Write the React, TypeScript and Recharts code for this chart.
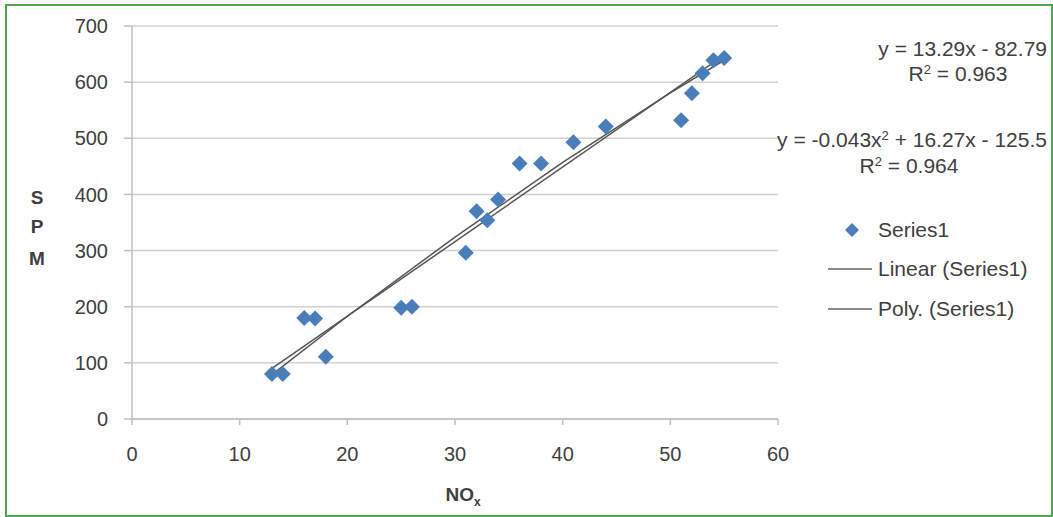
import React from "react";
import {
  ScatterChart,
  Scatter,
  XAxis,
  YAxis,
  CartesianGrid,
} from "recharts";

// NOx vs SPM observations
const noxValues = [13, 14, 16, 17, 18, 25, 26, 31, 32, 33, 34, 36, 38, 41, 44, 51, 52, 53, 54, 55];
const spmValues = [80, 80, 180, 179, 111, 198, 200, 296, 370, 354, 391, 455, 455, 493, 521, 532, 580, 616, 639, 643];

// trendlines as drawn in the picture
const linearX = [13, 55];
const linearY = [90, 648];
const polyX = [13, 20, 30, 40, 50, 55];
const polyY = [79, 183, 324, 457, 581, 639];

const xTicks = [0, 10, 20, 30, 40, 50, 60];
const yTicks = [0, 100, 200, 300, 400, 500, 600, 700];

const legendLabels = ["Series1", "Linear (Series1)", "Poly. (Series1)"];

const points = noxValues.map((x, i) => ({ x, y: spmValues[i] }));
const linearData = linearX.map((x, i) => ({ x, y: linearY[i] }));
const polyData = polyX.map((x, i) => ({ x, y: polyY[i] }));

const FONT = "'Liberation Sans', Arial, sans-serif";
const BLUE = "#4a7ebb";
const GRID = "#d0d0d0";
const TEXT = "#404040";

const Diamond = (props: any) => {
  const { cx, cy } = props;
  if (cx == null || cy == null) return null;
  const r = 8;
  return (
    <polygon
      points={`${cx},${cy - r} ${cx + r},${cy} ${cx},${cy + r} ${cx - r},${cy}`}
      fill={BLUE}
    />
  );
};

const NoShape = () => null;

// legend drawn by hand, Excel style
const LegendBox = ({ x, y }: { x: number; y: number }) => (
  <g style={{ fontFamily: FONT, fontSize: 21 }} fill={TEXT}>
    <polygon
      points={`${x + 24},${y - 7} ${x + 31},${y} ${x + 24},${y + 7} ${x + 17},${y}`}
      fill={BLUE}
    />
    <text x={x + 50} y={y + 7}>{legendLabels[0]}</text>
    <line x1={x} x2={x + 44} y1={y + 39} y2={y + 39} stroke="#666" strokeWidth={1.5} />
    <text x={x + 50} y={y + 46}>{legendLabels[1]}</text>
    <line x1={x} x2={x + 44} y1={y + 79} y2={y + 79} stroke="#666" strokeWidth={1.5} />
    <text x={x + 50} y={y + 86}>{legendLabels[2]}</text>
  </g>
);

export default function App() {
  return (
    <div
      style={{
        position: "absolute",
        left: 5,
        top: 4,
        width: 1044,
        height: 509,
        border: "2px solid #4fa64f",
        background: "#fff",
      }}
    >
      <ScatterChart
        width={1040}
        height={506}
        margin={{ top: 20, right: 269, bottom: 0, left: 0 }}
        style={{ fontFamily: FONT }}
      >
        <CartesianGrid horizontal vertical={false} stroke={GRID} strokeWidth={1.5} />
        <XAxis
          type="number"
          dataKey="x"
          domain={[0, 60]}
          ticks={xTicks}
          tickSize={6}
          tick={{ fontSize: 20, fill: TEXT }}
          tickMargin={22}
          stroke="#bfbfbf"
          strokeWidth={1.5}
          height={93}
          allowDataOverflow
        />
        <YAxis
          type="number"
          dataKey="y"
          domain={[0, 700]}
          ticks={yTicks}
          tickSize={8}
          tick={{ fontSize: 20, fill: TEXT }}
          tickMargin={16}
          stroke="#bfbfbf"
          strokeWidth={1.5}
          width={125}
          allowDataOverflow
        />
        <Scatter
          data={linearData}
          line={{ stroke: "#555", strokeWidth: 1.5 }}
          shape={NoShape}
          isAnimationActive={false}
          legendType="none"
        />
        <Scatter
          data={polyData}
          line={{ stroke: "#555", strokeWidth: 1.5 }}
          lineType="joint"
          shape={NoShape}
          isAnimationActive={false}
          legendType="none"
        />
        <Scatter
          data={points}
          shape={Diamond}
          fill={BLUE}
          isAnimationActive={false}
        />
        <LegendBox x={821} y={224} />
        <g style={{ fontFamily: FONT, fontSize: 21 }} fill={TEXT}>
          <text x={1040} y={50} textAnchor="end">y = 13.29x - 82.79</text>
          <text x={951} y={75} textAnchor="middle">
            R<tspan dy={-7} fontSize={13}>2</tspan>
            <tspan dy={7}> = 0.963</tspan>
          </text>
          <text x={1040} y={141} textAnchor="end">
            y = -0.043x<tspan dy={-7} fontSize={13}>2</tspan>
            <tspan dy={7}> + 16.27x - 125.5</tspan>
          </text>
          <text x={902} y={167} textAnchor="middle">
            R<tspan dy={-7} fontSize={13}>2</tspan>
            <tspan dy={7}> = 0.964</tspan>
          </text>
        </g>
        <g style={{ fontFamily: FONT, fontSize: 19, fontWeight: "bold" }} fill={TEXT}>
          <text x={30} y={198} textAnchor="middle">S</text>
          <text x={30} y={227} textAnchor="middle">P</text>
          <text x={30} y={259} textAnchor="middle">M</text>
          <text x={456} y={495} textAnchor="middle">
            NO<tspan dy={5} fontSize={12}>x</tspan>
          </text>
        </g>
      </ScatterChart>
    </div>
  );
}
